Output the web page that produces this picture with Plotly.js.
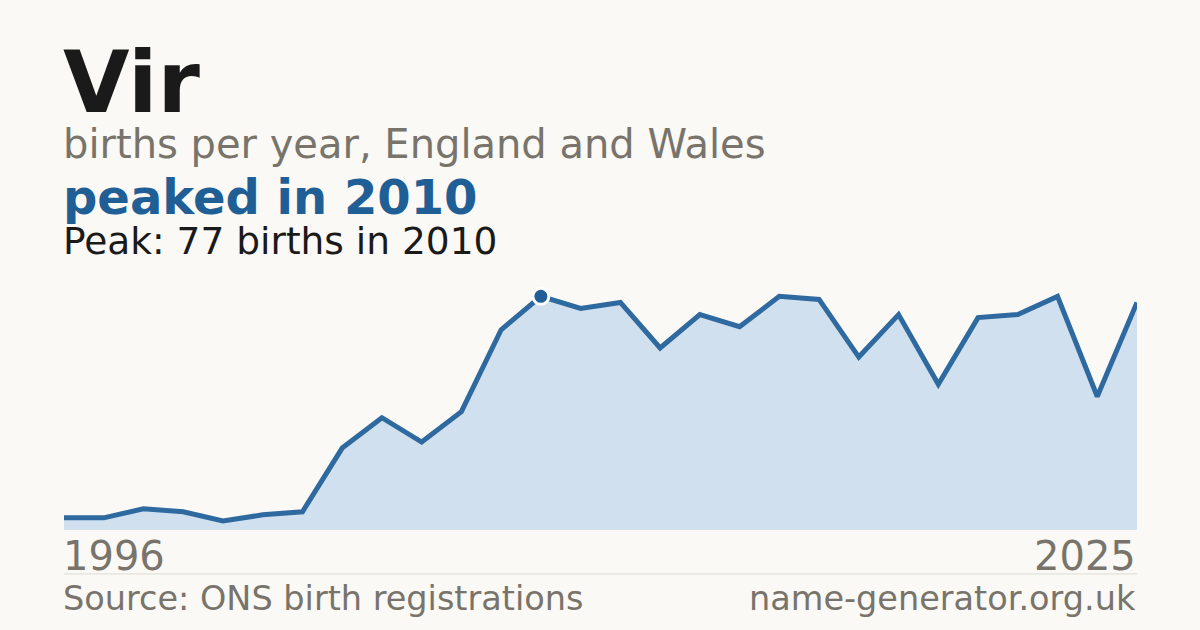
<!DOCTYPE html>
<html>
<head>
<meta charset="utf-8">
<script src="https://cdn.plot.ly/plotly-3.0.1.min.js"></script>
<style>
  html, body { margin: 0; padding: 0; background: #faf9f5; }
  #chart { width: 1200px; height: 630px; }
</style>
</head>
<body>
<div id="chart"></div>
<script>
// births per year, one entry per registered year (two years have no entry)
const years = [1996, 1997, 1998, 1999, 2000, 2002, 2003, 2004, 2005, 2006,
  2007, 2009, 2010, 2011, 2012, 2013, 2014, 2015, 2016, 2017,
  2018, 2019, 2020, 2021, 2022, 2023, 2024, 2025];
const births = [4, 4, 7, 6, 3, 5, 6, 27, 37, 29,
  39, 66, 77, 73, 75, 60, 71, 67, 77, 76,
  57, 71, 48, 70, 71, 77, 44, 75];
const nameText = "Vir";
const subtitleText = "births per year, England and Wales";
const headlineText = "peaked in 2010";
const sourceText = "Source: ONS birth registrations";
const siteText = "name-generator.org.uk";

const idx = years.map((y, i) => i);
const peakVal = Math.max(...births);
const peakIdx = births.indexOf(peakVal);
const peakYear = years[peakIdx];
const last = idx.length - 1;

const font = "DejaVu Sans, Verdana, sans-serif";
const blue = "#1f5f96";
const grey = "#78746c";

const area = {
  x: idx,
  y: births,
  type: "scatter",
  mode: "lines",
  fill: "tozeroy",
  fillcolor: "#d0e0ef",
  line: { color: "#2e6a9f", width: 5 },
  hoverinfo: "skip"
};

const peak = {
  x: [peakIdx],
  y: [peakVal],
  type: "scatter",
  mode: "markers",
  marker: { color: blue, size: 16, line: { color: "#ffffff", width: 3 } },
  hoverinfo: "skip"
};

// text block on the left, label helper
function label(text, x, y, xanchor, size, color, xref) {
  return {
    text: text, xref: xref || "paper", yref: "paper",
    x: x, y: y, xanchor: xanchor, yanchor: "middle", showarrow: false,
    xshift: xanchor === "left" ? -3 : 1,
    font: { family: font, size: size, color: color }
  };
}

const layout = {
  width: 1200,
  height: 630,
  paper_bgcolor: "#faf9f5",
  plot_bgcolor: "#faf9f5",
  showlegend: false,
  margin: { l: 64, r: 63, t: 273, b: 100 },
  xaxis: {
    range: [0, last],
    showgrid: false, zeroline: false, showticklabels: false, showline: false,
    fixedrange: true
  },
  yaxis: {
    range: [0, peakVal * 1.1],
    showgrid: false, zeroline: false, showticklabels: false, showline: false,
    fixedrange: true
  },
  shapes: [
    {
      type: "line", xref: "paper", yref: "paper",
      x0: 0, x1: 1, y0: -0.171, y1: -0.171,
      line: { color: "#dedbd3", width: 1 }
    }
  ],
  annotations: [
    label("<b>" + nameText + "</b>", 0, 1.743, "left", 86, "#1a1a1a"),
    label(subtitleText, 0, 1.502, "left", 40, grey),
    label("<b>" + headlineText + "</b>", 0, 1.296, "left", 48, blue),
    label("Peak: " + peakVal + " births in " + peakYear, 0, 1.125, "left", 37.5, "#1a1a1a"),
    label(String(years[0]), 0, -0.101, "left", 40, grey, "x"),
    label(String(years[last]), last, -0.101, "right", 40, grey, "x"),
    label(sourceText, 0, -0.265, "left", 33.5, grey),
    label(siteText, 1, -0.265, "right", 33.5, grey)
  ]
};

Plotly.newPlot("chart", [area, peak], layout, { staticPlot: true, displayModeBar: false });
</script>
</body>
</html>
